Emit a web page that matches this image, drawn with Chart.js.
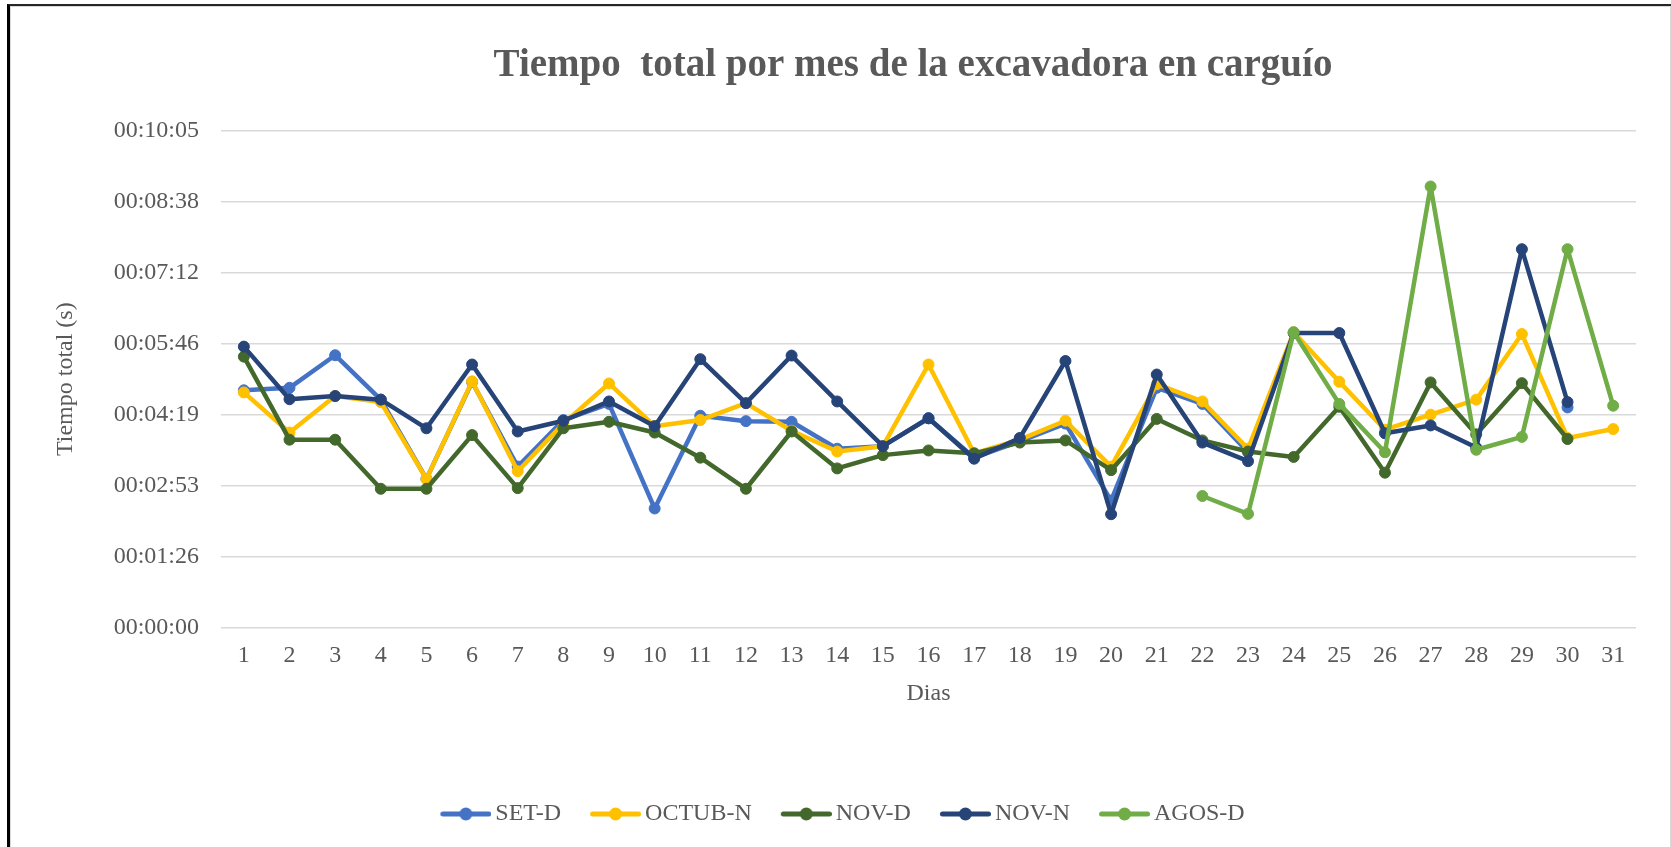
<!DOCTYPE html>
<html>
<head>
<meta charset="utf-8">
<script src="https://cdn.jsdelivr.net/npm/chart.js@4.4.1/dist/chart.umd.min.js"></script>
<style>
  html, body { margin: 0; padding: 0; background: #ffffff; }
  #wrap { position: relative; width: 1671px; height: 847px; overflow: hidden; }
  #c { position: absolute; left: 0; top: 0; }
  .frame1 { position: absolute; left: 7px; top: 4px; width: 1670px; height: 850px;
            border-top: 2px solid #262626; border-left: 3px solid #000; pointer-events: none; }
  .frame2 { position: absolute; left: 10px; top: 6px; width: 1659px; height: 850px;
            border-top: 1px solid #d9d9d9; border-left: 1px solid #d9d9d9; border-right: 1px solid #d9d9d9; pointer-events: none; }
</style>
</head>
<body>
<div id="wrap">
  <canvas id="c" width="1671" height="847"></canvas>
  <div class="frame1"></div>
  <div class="frame2"></div>
</div>
<script>
const TITLE = 'Tiempo  total por mes de la excavadora en carguío';
const Y_TITLE = 'Tiempo total (s)';
const X_TITLE = 'Dias';

const DAYS = ['1','2','3','4','5','6','7','8','9','10','11','12','13','14','15','16','17','18','19','20','21','22','23','24','25','26','27','28','29','30','31'];

const TICK_VALUES = [0, 86.4, 172.8, 259.2, 345.6, 432, 518.4, 604.8];
const TICK_LABELS = ['00:00:00','00:01:26','00:02:53','00:04:19','00:05:46','00:07:12','00:08:38','00:10:05'];

const SERIES_NAMES = ['SET-D', 'OCTUB-N', 'NOV-D', 'NOV-N', 'AGOS-D'];
const SERIES_COLORS = ['#4472C4', '#FFC000', '#43682B', '#264478', '#70AD47'];

// values in seconds
const SET_D = [288.9, 291.9, 331.6, 277.5, 181, 299, 196, 252.6, 272.3, 144.9, 257.9, 251.3, 250.5, 217.7, 220.8, 254.8, 206.8, 226.5, 248.3, 154.5, 291.9, 272.3, 213.4, null, null, null, null, null, null, 268, null];
const OCTUB_N = [286.3, 237.4, 281.9, 274.5, 180.7, 299.8, 190.3, 248.3, 297.2, 245.2, 252.6, 273.2, 239.6, 214.3, 220.8, 320.3, 212.1, 228.7, 251.8, 195.9, 296.3, 275.3, 217.7, 359.6, 299.3, 240.9, 259.2, 277.5, 357.4, 230.8, 241.7];
const NOV_D = [329.9, 228.7, 228.7, 168.9, 168.9, 234.3, 169.7, 242.6, 250.5, 237.4, 206.8, 168.9, 238.7, 193.7, 209.9, 215.6, 212.1, 225.2, 227.8, 191.6, 254, 227.8, 214.3, 207.7, 268.8, 188.5, 298.5, 235.2, 297.6, 229.5, null];
const NOV_N = [342.1, 278, 281.9, 277.5, 242.6, 320.3, 238.7, 251.8, 275.3, 245.2, 326.8, 273.2, 331.2, 275.3, 220.8, 254.8, 205.5, 230.8, 324.6, 137.9, 308.1, 225.2, 202.5, 358.7, 358.7, 236.5, 246.1, 219.1, 460.8, 274.5, null];
const AGOS_D = [null, null, null, null, null, null, null, null, null, null, null, null, null, null, null, null, null, null, null, null, null, 160.1, 138.3, 359.6, 272.3, 213.4, 537.2, 216.4, 232.1, 460.8, 270.1];

const SERIES_VALUES = [SET_D, OCTUB_N, NOV_D, NOV_N, AGOS_D];

const TEXT_COLOR = '#595959';
const FONT = "'Liberation Serif', 'Times New Roman', serif";

function legendImage(color) {
  const c = document.createElement('canvas');
  c.width = 78; c.height = 18;
  const g = c.getContext('2d');
  g.strokeStyle = color; g.lineWidth = 5; g.lineCap = 'round';
  g.beginPath(); g.moveTo(29.5, 9); g.lineTo(75.5, 9); g.stroke();
  g.fillStyle = color;
  g.beginPath(); g.arc(52.5, 9, 6.5, 0, Math.PI * 2); g.fill();
  return c;
}

const datasets = SERIES_NAMES.map((name, i) => ({
  label: name,
  data: SERIES_VALUES[i],
  borderColor: SERIES_COLORS[i],
  backgroundColor: SERIES_COLORS[i],
  pointBackgroundColor: SERIES_COLORS[i],
  pointBorderColor: SERIES_COLORS[i],
  borderWidth: 4.5,
  pointRadius: 5.5,
  pointBorderWidth: 1,
  tension: 0,
  spanGaps: false,
  borderCapStyle: 'round',
  borderJoinStyle: 'round',
  order: SERIES_NAMES.length - i
}));

const titlePlugin = {
  id: 'customTitle',
  afterDraw(chart) {
    const ctx = chart.ctx;
    ctx.save();
    ctx.font = "bold 39px " + FONT;
    ctx.fillStyle = TEXT_COLOR;
    ctx.textAlign = 'center';
    ctx.textBaseline = 'alphabetic';
    ctx.fillText(TITLE, 913, 76);
    ctx.restore();
  }
};

new Chart(document.getElementById('c'), {
  type: 'line',
  data: { labels: DAYS, datasets },
  plugins: [titlePlugin],
  options: {
    responsive: false,
    animation: false,
    layout: { padding: { top: 131, right: 35, bottom: 11, left: 30 } },
    plugins: {
      title: { display: false },
      tooltip: { enabled: false },
      legend: {
        display: true,
        position: 'bottom',
        align: 'center',
        labels: {
          usePointStyle: true,
          pointStyleWidth: 62,
          padding: 10,
          color: TEXT_COLOR,
          font: { family: FONT, size: 24 },
          generateLabels(chart) {
            return chart.data.datasets.map((ds, i) => ({
              text: ds.label,
              fillStyle: ds.borderColor,
              strokeStyle: ds.borderColor,
              fontColor: TEXT_COLOR,
              lineWidth: 0,
              pointStyle: legendImage(ds.borderColor),
              hidden: false,
              datasetIndex: i
            }));
          }
        }
      }
    },
    scales: {
      x: {
        type: 'category',
        offset: true,
        grid: { display: false, drawTicks: false },
        border: { display: false },
        ticks: { color: TEXT_COLOR, font: { family: FONT, size: 24 }, padding: 14, maxRotation: 0, autoSkip: false },
        title: { display: true, text: X_TITLE, color: TEXT_COLOR, font: { family: FONT, size: 24 }, padding: { top: -5, bottom: 84 } }
      },
      y: {
        min: 0,
        max: 604.8,
        afterBuildTicks(scale) { scale.ticks = TICK_VALUES.map(v => ({ value: v })); },
        grid: { color: '#D9D9D9', lineWidth: 1.5, drawTicks: false },
        border: { display: false },
        ticks: {
          color: TEXT_COLOR,
          font: { family: FONT, size: 24 },
          padding: 22,
          callback(value, index) { return TICK_LABELS[index]; }
        },
        title: { display: true, text: Y_TITLE, color: TEXT_COLOR, font: { family: FONT, size: 24 }, padding: { top: 21.6, bottom: 11.3 } }
      }
    }
  }
});
</script>
</body>
</html>
